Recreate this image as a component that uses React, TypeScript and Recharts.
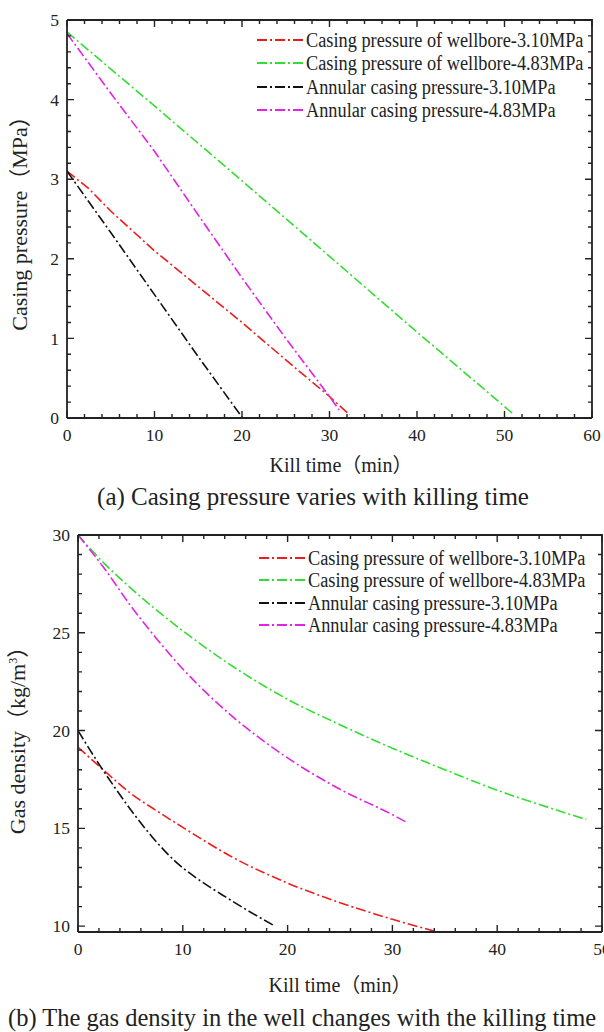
import React from 'react'
import { LineChart, Line, XAxis, YAxis } from 'recharts'

const SERIF = '"Liberation Serif", "Times New Roman", "Noto Sans CJK SC", serif'
const AXIS = '#222222'

// (a) casing pressure (MPa) against kill time (min)
const presWell310 = [
  { t: 0, v: 3.1 }, { t: 2.5, v: 2.88 }, { t: 5, v: 2.6 }, { t: 10, v: 2.1 },
  { t: 15, v: 1.65 }, { t: 20, v: 1.2 }, { t: 25, v: 0.73 }, { t: 30, v: 0.27 }, { t: 32.3, v: 0.04 },
]
const presWell483 = [
  { t: 0, v: 4.85 }, { t: 10, v: 3.92 }, { t: 20, v: 2.98 }, { t: 30, v: 2.03 },
  { t: 40, v: 1.08 }, { t: 51, v: 0.05 },
]
const presAnn310 = [
  { t: 0, v: 3.1 }, { t: 5, v: 2.33 }, { t: 10, v: 1.55 }, { t: 15, v: 0.77 }, { t: 20, v: 0.01 },
]
const presAnn483 = [
  { t: 0, v: 4.83 }, { t: 5, v: 4.08 }, { t: 10, v: 3.35 }, { t: 15, v: 2.55 },
  { t: 20, v: 1.76 }, { t: 25, v: 1.0 }, { t: 30, v: 0.27 }, { t: 31.1, v: 0.1 },
]

// (b) gas density (kg/m3) against kill time (min)
const densWell310 = [
  { t: 0, v: 19.15 }, { t: 2.5, v: 17.95 }, { t: 5, v: 16.8 }, { t: 7.5, v: 15.9 }, { t: 10, v: 15.05 },
  { t: 15, v: 13.45 }, { t: 20, v: 12.2 }, { t: 25, v: 11.2 }, { t: 30, v: 10.35 }, { t: 34.3, v: 9.7 },
]
const densWell483 = [
  { t: 0, v: 30 }, { t: 2.5, v: 28.55 }, { t: 5, v: 27.3 }, { t: 10, v: 25.1 }, { t: 15, v: 23.2 },
  { t: 20, v: 21.6 }, { t: 25, v: 20.3 }, { t: 30, v: 19.1 }, { t: 35, v: 18.0 }, { t: 40, v: 16.95 },
  { t: 45, v: 16.05 }, { t: 48.5, v: 15.45 },
]
const densAnn310 = [
  { t: 0, v: 20 }, { t: 1.9, v: 18.37 }, { t: 3.5, v: 17.1 }, { t: 5.1, v: 15.9 }, { t: 7.1, v: 14.55 },
  { t: 9.2, v: 13.35 }, { t: 11.4, v: 12.42 }, { t: 13.7, v: 11.62 }, { t: 16, v: 10.86 }, { t: 18.8, v: 10.0 },
]
const densAnn483 = [
  { t: 0, v: 30 }, { t: 2.5, v: 28.3 }, { t: 5, v: 26.4 }, { t: 7.5, v: 24.7 }, { t: 10, v: 23.15 },
  { t: 12.5, v: 21.8 }, { t: 15, v: 20.6 }, { t: 17.5, v: 19.55 }, { t: 20, v: 18.6 }, { t: 25, v: 17.0 },
  { t: 30, v: 15.7 }, { t: 31.4, v: 15.3 },
]

const seriesNames = [
  'Casing pressure of wellbore-3.10MPa',
  'Casing pressure of wellbore-4.83MPa',
  'Annular casing pressure-3.10MPa',
  'Annular casing pressure-4.83MPa',
]
const seriesColors = ['#ee1c1c', '#33dd33', '#111111', '#e322e3']
const DASH = '10 3 2 3'

const range = (a: number, b: number, s: number) =>
  Array.from({ length: Math.round((b - a) / s) + 1 }, (_, i) => +(a + i * s).toFixed(4))

const xTicksA = range(0, 60, 2)
const yTicksA = range(0, 5, 0.2)
const xTicksB = range(0, 50, 2)
const yTicksB = range(10, 30, 1)

// inward ticks, mirrored on the opposite side; the first x tick also closes the frame
function Tick(props: any) {
  const { payload, side, major, plotW, plotH, index } = props
  const x = Number(props.x)
  const y = Number(props.y)
  const v = payload.value
  const isMajor = major(v)
  const len = isMajor ? 7 : 4
  const txt = { fill: '#222', fontSize: 17.5, fontFamily: SERIF }
  if (side === 'bottom') {
    const top = y - plotH
    return (
      <g>
        <path d={`M${x},${y}V${y - len}M${x},${top}V${top + len}`} stroke={AXIS} strokeWidth={1.4} fill="none" />
        {index === 0 && (
          <path d={`M${x},${top}H${x + plotW}V${y}`} stroke={AXIS} strokeWidth={1.8} fill="none" />
        )}
        {isMajor && <text x={x} y={y + 9} dy="0.8em" textAnchor="middle" {...txt}>{v}</text>}
      </g>
    )
  }
  const right = x + plotW
  return (
    <g>
      <path d={`M${x},${y}H${x + len}M${right},${y}H${right - len}`} stroke={AXIS} strokeWidth={1.4} fill="none" />
      {isMajor && <text x={x - 8} y={y} dy="0.35em" textAnchor="end" {...txt}>{v}</text>}
    </g>
  )
}

const axisLine = { stroke: AXIS, strokeWidth: 1.8 }

function Panel({ series, xDomain, yDomain, xTicks, yTicks, xMajor, yMajor, height, margin, yWidth, curve }: any) {
  const plotW = 604 - margin.left - yWidth - margin.right
  const plotH = height - margin.top - margin.bottom - 30
  const common = { type: 'number' as const, allowDataOverflow: true, interval: 0, tickSize: 0, tickMargin: 0, tickLine: false, axisLine }
  return (
    <LineChart width={604} height={height} margin={margin}>
      <XAxis dataKey="t" domain={xDomain} ticks={xTicks} height={30} {...common}
        tick={<Tick side="bottom" major={xMajor} plotW={plotW} plotH={plotH} />} />
      <YAxis domain={yDomain} ticks={yTicks} width={yWidth} {...common}
        tick={<Tick side="left" major={yMajor} plotW={plotW} plotH={plotH} />} />
      {series.map((d: any, i: number) => (
        <Line key={i} data={d} dataKey="v" type={curve} stroke={seriesColors[i]}
          strokeWidth={1.6} strokeDasharray={DASH} dot={false} isAnimationActive={false} />
      ))}
    </LineChart>
  )
}

function LegendBox({ top, left, rowGap }: { top: number; left: number; rowGap: number }) {
  return (
    <div style={{ position: 'absolute', top, left }}>
      {seriesNames.map((n, i) => (
        <div key={n} style={{ position: 'absolute', top: i * rowGap, left: 0, display: 'flex', alignItems: 'center', whiteSpace: 'nowrap', transform: 'translateY(-50%)' }}>
          <svg width={46} height={8} style={{ marginRight: 3 }}>
            <line x1={0} y1={4} x2={46} y2={4} stroke={seriesColors[i]} strokeWidth={1.8} strokeDasharray={DASH} />
          </svg>
          <span style={{ display: 'inline-block', fontFamily: SERIF, fontSize: 20, color: '#222', lineHeight: 1, transform: 'scaleX(0.915)', transformOrigin: 'left center' }}>{n}</span>
        </div>
      ))}
    </div>
  )
}

const label = (text: React.ReactNode, cx: number, cy: number, size: number, rotate = false) => (
  <div style={{
    position: 'absolute', left: cx, top: cy, whiteSpace: 'nowrap', fontFamily: SERIF, fontSize: size,
    color: '#222', lineHeight: 1, transform: `translate(-50%, -50%)${rotate ? ' rotate(-90deg)' : ''}`,
  }}>{text}</div>
)

export default function App() {
  return (
    <div style={{ position: 'absolute', top: 0, left: 0, width: 604, height: 1032, overflow: 'hidden', background: '#fff' }}>
      <div style={{ position: 'absolute', top: 0, left: 0 }}>
        <Panel series={[presWell310, presWell483, presAnn310, presAnn483]} xDomain={[0, 60]} yDomain={[0, 5]}
          xTicks={xTicksA} yTicks={yTicksA} xMajor={(v: number) => v % 10 === 0}
          yMajor={(v: number) => Number.isInteger(v)} height={475}
          margin={{ top: 20, right: 12, bottom: 27, left: 7 }} yWidth={60} curve="linear" />
      </div>
      <div style={{ position: 'absolute', top: 515, left: 0 }}>
        <Panel series={[densWell310, densWell483, densAnn310, densAnn483]} xDomain={[0, 50]} yDomain={[9.7, 30]}
          xTicks={xTicksB} yTicks={yTicksB} xMajor={(v: number) => v % 10 === 0}
          yMajor={(v: number) => v % 5 === 0} height={480}
          margin={{ top: 20, right: 2, bottom: 33, left: 8 }} yWidth={70} curve="monotone" />
      </div>
      <LegendBox top={40} left={257} rowGap={23.3} />
      <LegendBox top={558} left={259} rowGap={22.3} />
      {label('Casing pressure（MPa）', 20, 218, 22, true)}
      {label('Kill time（min）', 341, 465, 20)}
      {label('(a) Casing pressure varies with killing time', 313, 496, 25)}
      {label(<span>Gas density（kg/m<sup style={{ fontSize: 12 }}>3</sup>）</span>, 18, 735, 22, true)}
      {label('Kill time（min）', 340, 985, 20)}
      <div style={{ position: 'absolute', left: 8, top: 1018, transform: 'translateY(-50%)', whiteSpace: 'nowrap', fontFamily: SERIF, fontSize: 24.5, color: '#222', lineHeight: 1 }}>
        (b) The gas density in the well changes with the killing time
      </div>
    </div>
  )
}
